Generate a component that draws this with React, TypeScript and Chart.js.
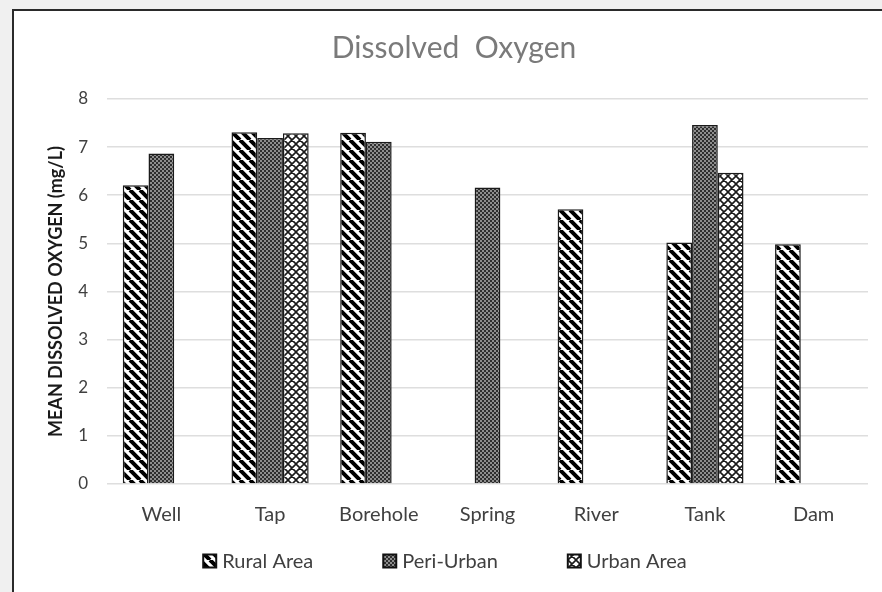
import React, { useEffect, useRef } from "react";
import { Chart, registerables } from "chart.js";
Chart.register(...registerables);

const categories = ["Well", "Tap", "Borehole", "Spring", "River", "Tank", "Dam"];
const seriesNames = ["Rural Area", "Peri-Urban", "Urban Area"];
const ruralArea = [6.21, 7.31, 7.3, null, 5.71, 5.02, 4.98];
const periUrban = [6.87, 7.19, 7.11, 6.16, null, 7.46, null];
const urbanArea = [null, 7.29, null, null, null, 6.47, null];
const yTickValues = [0, 1, 2, 3, 4, 5, 6, 7, 8];
const titleText = "Dissolved  Oxygen";
const yAxisTitle = "MEAN DISSOLVED OXYGEN (mg/L)";

function makePattern(size: number, draw: (g: CanvasRenderingContext2D, s: number) => void) {
  const c = document.createElement("canvas");
  c.width = size;
  c.height = size;
  const g = c.getContext("2d") as CanvasRenderingContext2D;
  draw(g, size);
  return g.createPattern(c, "repeat") as CanvasPattern;
}

export default function App() {
  const ref = useRef<HTMLCanvasElement | null>(null);

  useEffect(() => {
    if (!ref.current) return;

    const stripes = makePattern(10, (g, s) => {
      g.fillStyle = "#ffffff";
      g.fillRect(0, 0, s, s);
      g.strokeStyle = "#000000";
      g.lineWidth = 4;
      g.beginPath();
      for (let k = -1; k <= 1; k++) {
        g.moveTo(k * s, 0);
        g.lineTo(k * s + s, s);
      }
      g.stroke();
    });

    const checker = makePattern(4, (g, s) => {
      g.fillStyle = "#2e2e2e";
      g.fillRect(0, 0, s, s);
      g.fillStyle = "#8e8e8e";
      g.fillRect(0, 0, 2, 2);
      g.fillRect(2, 2, 2, 2);
    });

    const diamonds = makePattern(8, (g, s) => {
      g.fillStyle = "#ffffff";
      g.fillRect(0, 0, s, s);
      g.strokeStyle = "#1a1a1a";
      g.lineWidth = 1.6;
      g.beginPath();
      for (let k = -1; k <= 1; k++) {
        g.moveTo(k * s, 0);
        g.lineTo(k * s + s, s);
        g.moveTo(k * s + s, 0);
        g.lineTo(k * s, s);
      }
      g.stroke();
    });

    const fills = [stripes, checker, diamonds];
    const seriesData = [ruralArea, periUrban, urbanArea];

    const legendPlugin = {
      id: "customLegend",
      afterDraw(chart: any) {
        const ctx = chart.ctx as CanvasRenderingContext2D;
        ctx.save();
        ctx.font = "20px Lato";
        const box = 13;
        const gapBoxText = 6;
        const gapItems = 70;
        const widths = seriesNames.map((n) => box + gapBoxText + ctx.measureText(n).width);
        const total = widths.reduce((a, b) => a + b, 0) + gapItems * (widths.length - 1);
        let x = chart.width / 2 - total / 2 + 4;
        const yc = chart.height - 31;
        seriesNames.forEach((n, i) => {
          ctx.fillStyle = fills[i];
          ctx.fillRect(x, yc - box / 2, box, box);
          ctx.strokeStyle = "#111";
          ctx.lineWidth = 2;
          ctx.strokeRect(x, yc - box / 2, box, box);
          ctx.fillStyle = "#404040";
          ctx.textBaseline = "middle";
          ctx.textAlign = "left";
          ctx.fillText(n, x + box + gapBoxText, yc + 1);
          x += widths[i] + gapItems;
        });
        ctx.restore();
      },
    };

    const chart = new Chart(ref.current, {
      type: "bar",
      data: {
        labels: categories,
        datasets: seriesNames.map((name, i) => ({
          label: name,
          data: seriesData[i],
          backgroundColor: fills[i],
          borderColor: "#1a1a1a",
          borderWidth: 1.5,
          categoryPercentage: 0.71,
          barPercentage: 1,
        })),
      },
      options: {
        responsive: false,
        animation: false,
        layout: { padding: { top: 0, left: 40, right: 14, bottom: 46 } },
        plugins: {
          legend: { display: false },
          tooltip: { enabled: false },
          title: {
            display: true,
            text: titleText,
            color: "#7a7a7a",
            font: { family: "Lato", size: 30, weight: "normal" },
            padding: { top: 30, bottom: 33 },
          },
        },
        scales: {
          x: {
            grid: { display: false, drawTicks: false },
            border: { display: false },
            ticks: {
              color: "#404040",
              font: { family: "Lato", size: 20 },
              padding: 19,
            },
          },
          y: {
            min: 0,
            max: 8,
            afterFit: (scale: any) => {
              scale.width = 67;
            },
            afterBuildTicks: (scale: any) => {
              scale.ticks = yTickValues.map((v) => ({ value: v }));
            },
            grid: { color: "#dedede", lineWidth: 1.6, drawTicks: false },
            border: { display: false },
            ticks: {
              color: "#404040",
              font: { family: "Lato", size: 17 },
              padding: 19,
            },
            title: {
              display: true,
              text: yAxisTitle,
              color: "#1a1a1a",
              font: { family: "Lato", size: 18, weight: "bold" },
              padding: { top: 5, bottom: 0 },
            },
          },
        },
      },
      plugins: [legendPlugin],
    });

    return () => chart.destroy();
  }, []);

  return (
    <div
      style={{
        position: "fixed",
        left: 0,
        top: 0,
        width: 882,
        height: 592,
        background: "#f0f0f0",
        overflow: "hidden",
      }}
    >
      <div
        style={{
          position: "absolute",
          left: 12,
          top: 9,
          right: -10,
          bottom: -10,
          background: "#ffffff",
          borderLeft: "2px solid #2a2a2a",
          borderTop: "2px solid #2a2a2a",
        }}
      />
      <canvas
        ref={ref}
        width={882}
        height={592}
        style={{ position: "absolute", left: 0, top: 0, width: 882, height: 592 }}
      />
    </div>
  );
}
